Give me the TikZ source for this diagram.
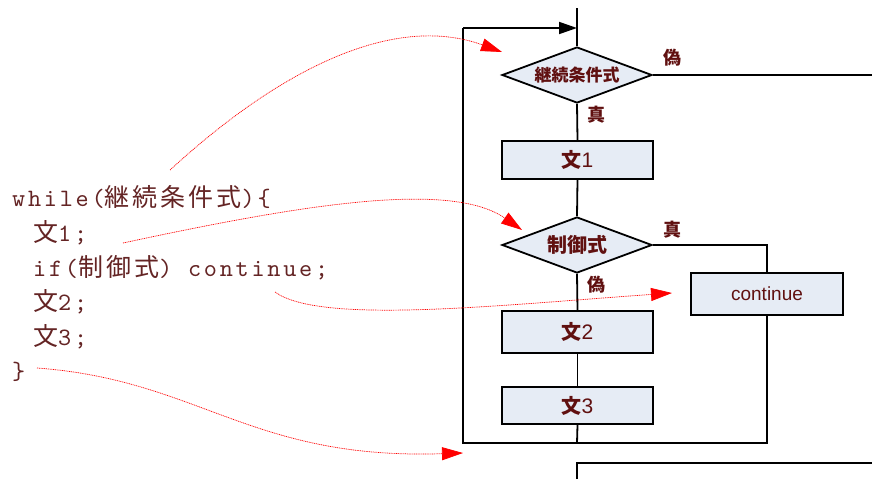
\documentclass[tikz,border=0pt]{standalone}
\usepackage{fontspec}
\setmainfont{Liberation Sans}
\newfontfamily\cjk{Noto Sans CJK JP}
\newfontfamily\codefont{lmmono10-regular.otf}[LetterSpace=11]
\newfontfamily\codecjk{Noto Sans CJK JP}[LetterSpace=12]
\usetikzlibrary{shapes.geometric,arrows.meta}
\definecolor{lbl}{RGB}{96,16,16}
\definecolor{code}{RGB}{100,36,36}
\definecolor{boxfill}{RGB}{230,236,245}
\tikzset{
  flow/.style={draw=black,line width=1.8pt,fill=boxfill,text=lbl,inner sep=0pt},
  stepbox/.style={flow,rectangle,minimum width=151pt},
  decide/.style={flow,diamond,aspect=2.68,minimum width=150pt,minimum height=56pt},
  conn/.style={draw=black,line width=1.8pt},
  tag/.style={text=lbl,font=\cjk\bfseries\fontsize{18}{18}\selectfont,inner sep=0pt},
  codeline/.style={anchor=base west,text=code,inner sep=0pt,font=\codefont\fontsize{25}{25}\selectfont},
  pointer/.style={draw=red,line width=0.7pt,dash pattern=on 1pt off 0.8pt,-{Triangle[length=21pt,width=13pt]},fill=none},
}
\begin{document}
\begin{tikzpicture}[x=1pt,y=-1pt]
\path[use as bounding box] (0,0) rectangle (872,479);

% flowchart nodes
\node[decide,font=\cjk\bfseries\fontsize{17}{17}\selectfont] (d1) at (577,75) {継続条件式};
\node[stepbox,minimum height=38pt,font=\fontsize{21}{21}\selectfont] (b1) at (577.5,160) {{\cjk\bfseries\fontsize{20}{20}\selectfont 文}1};
\node[decide,font=\cjk\bfseries\fontsize{20}{20}\selectfont] (d2) at (577,245) {制御式};
\node[stepbox,minimum width=152pt,minimum height=42pt,font=\fontsize{19}{19}\selectfont] (cont) at (767,294) {continue};
\node[stepbox,minimum height=42pt,font=\fontsize{21}{21}\selectfont] (b2) at (577.5,332) {{\cjk\bfseries\fontsize{20}{20}\selectfont 文}2};
\node[stepbox,minimum height=37pt,font=\fontsize{21}{21}\selectfont] (b3) at (577.5,405.5) {{\cjk\bfseries\fontsize{20}{20}\selectfont 文}3};

\node[tag] (f1) at (672,58) {偽};
\node[tag] (t1) at (596,115) {真};
\node[tag] (t2) at (672,230) {真};
\node[tag] (f2) at (596,285) {偽};

% free ends
\coordinate (top) at (577,8);
\coordinate (jt) at (577,28);
\coordinate (lt) at (463,28);
\coordinate (lb) at (463,443);
\coordinate (mb) at (577,443);
\coordinate (rb) at (767,443);
\coordinate (exit) at (872,75);
\coordinate (nb) at (577,479);
\coordinate (nc) at (577,463);
\coordinate (ne) at (872,463);

% connectors
\draw[conn] (top) -- (d1.north);
\draw[conn] (d1.east) -- (exit);
\draw[conn] (d1.south) -- (b1.north);
\draw[conn] (b1.south) -- (d2.north);
\draw[conn] (d2.south) -- (b2.north);
\draw[conn] (b2.south) -- (b3.north);
\draw[conn] (b3.south) -- (mb);
\draw[conn] (d2.east) -| (cont.north);
\draw[conn] (cont.south) -- (rb) -- (lb) -- (lt);
\draw[conn,-{Triangle[length=18pt,width=12pt]}] (lt) -- (jt);
\draw[conn] (nb) -- (nc) -- (ne);

% code
\node[codeline] (c1) at (12,206) {while({\codecjk 継続条件式})\{};
\node[codeline] (c2) at (33,241) {{\codecjk 文}1;};
\node[codeline] (c3) at (33,276) {if({\codecjk 制御式}) continue;};
\node[codeline] (c4) at (33,310) {{\codecjk 文}2;};
\node[codeline] (c5) at (33,345) {{\codecjk 文}3;};
\node[codeline] (c6) at (12,379) {\}};

% pointers
\coordinate (p1s) at (170,170);
\coordinate (p1e) at (502,52);
\coordinate (p2s) at (123,243);
\coordinate (p2e) at (522,230);
\coordinate (p3s) at (275,292);
\coordinate (p3e) at (672,293);
\coordinate (p4s) at (37,368);
\coordinate (p4e) at (463,453);
\draw[pointer] (p1s) .. controls (290,60) and (400,15) .. (p1e);
\draw[pointer] (p2s) .. controls (300,205) and (450,180) .. (p2e);
\draw[pointer] (p3s) .. controls (320,325) and (500,305) .. (p3e);
\draw[pointer] (p4s) .. controls (200,380) and (250,460) .. (p4e);
\end{tikzpicture}
\end{document}
